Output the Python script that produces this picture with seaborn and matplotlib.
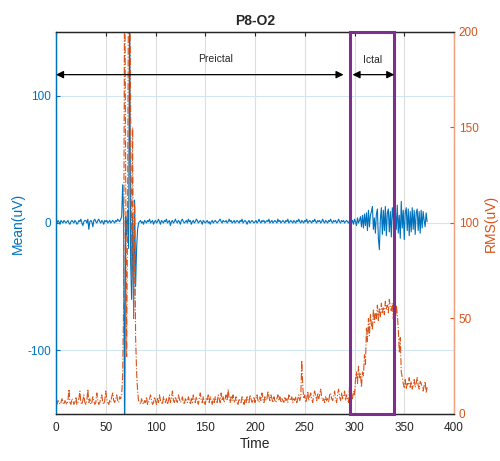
import numpy as np
import pandas as pd
import matplotlib
matplotlib.use('Agg')
import matplotlib.pyplot as plt
import seaborn as sns
from matplotlib.patches import Rectangle

sns.set_style('white')
plt.rcParams['font.family'] = ['Liberation Sans', 'DejaVu Sans']
plt.rcParams['axes.unicode_minus'] = False

BLUE = '#0072BD'
ORANGE = '#D95319'
PURPLE = '#7E2F8E'

# ---------------- data ----------------
time = list(range(374))

mean_uv = [
    1, 0, 2, 1, -1, 2, 1, 0, 2, 1,
    0, 1, 2, 0, -1, 1, 2, 1, 0, 2,
    1, -1, 0, 2, 1, 3, 0, -2, 1, 2,
    2, 0, 3, -5, 1, 2, 1, -3, 2, 3,
    1, 0, 2, 3, 1, 0, 2, 1, -1, 2,
    1, 2, 0, 1, 2, 0, 1, 2, 1, 0,
    2, 1, 3, 2, 1, 3, 5, 30, 2, -180,
    5, -10, 10, -20, 180, -30, -60, 5, -70, 18,
    -50, -20, -5, 0,
    1, 2, 0, 1, -1, 2,
    1, 0, 2, 1, 3, 0, 1, 2, -1, 1,
    2, 0, 1, 3, 1, -1, 2, 1, 0, 2,
    1, 3, 0, 1, 2, -2, 1, 2, 0, 1,
    3, 1, 0, 2, 1, -1, 2, 3, 1, 0,
    1, 2, 0, 3, 1, 2, -1, 1, 2, 0,
    1, 3, 2, 0, 1, 2, 1, -1, 2, 1,
    0, 1, 2, 0, 1, -1, 1, 2, 0, 1,
    2, 1, 0, 1, 2, 3, 1, 0, 2, 1,
    1, 2, 0, 1, 3, 1, 2, 0, 1, 2,
    0, 1, 2, 1, 0, 2, 1, 3, 0, 1,
    2, 1, -1, 1, 2, 0, 1, 2, 1, 0,
    1, 2, 0, 1, 3, 1, 0, 2, 1, 2,
    0, 1, 2, 1, 3, 0, 1, 2, 0, 1,
    2, 1, 0, 3, 1, 2, 0, 1, 2, 1,
    0, 2, 1, 3, 0, 1, 2, 1, 0, 2,
    1, 0, 2, 1, 3, 1, 0, 2, 1, 0,
    2, 1, 3, 0, 1, 2, 1, 0, 2, 1,
    3, 1, 0, 2, 1, 2, 0, 1, 3, 1,
    0, 2, 1, 0, 2, 1, 3, 1, 0, 2,
    1, 2, 0, 1, 3, 1, 0, 2, 1, 2,
    0, 1, 2, 1, 0, 2,
    1, 0, 2, -1, 3, 1, -2, 4, 0, 2,
    5, -3, 6, -4, 7, -2, 8, -6, 10, -3,
    6, 9, 13, -5, 4, -8, 7, 11, -12, -21,
    3, 12, -9, 10, -6, 13, -10, 8, 11, -7,
    9, -11, 12, 4, -9, 10, -5, 14, -8, 6,
    -12, 17, -4, 10, -13, 8, 12, -6, 11, -10,
    9, -7, 12, -5, 10, -9, 8, 11, -6, 9,
    -8, 10, -4, 9, 2, -3, 8, 1,
]

rms_uv = [
    6, 5, 7, 6, 5, 6, 8, 6, 5, 7,
    6, 5, 7, 13, 6, 5, 8, 7, 5, 6,
    9, 5, 6, 8, 12, 6, 5, 7, 10, 6,
    5, 7, 13, 6, 8, 5, 6, 9, 7, 5,
    6, 11, 7, 5, 6, 8, 10, 6, 5, 7,
    12, 8, 6, 5, 7, 6, 9, 11, 7, 6,
    8, 10, 7, 6, 9, 8, 10, 20, 60, 250,
    130, 30, 110, 250, 250, 160, 70, 150, 50, 110,
    40, 22, 12, 7, 6, 5, 8, 6, 5, 7,
    6, 9, 5, 6, 8, 10, 7, 5, 6, 9,
    7, 5, 8, 6, 10, 7, 6, 5, 9, 7,
    6, 8, 5, 7, 10, 6, 8, 12, 7, 6,
    9, 7, 6, 10, 8, 6, 7, 9, 6, 5,
    8, 7, 6, 9, 7, 5, 8, 6, 10, 7,
    6, 9, 7, 5, 8, 11, 7, 6, 9, 6,
    5, 8, 7, 10, 6, 9, 7, 5, 8, 6,
    9, 7, 6, 10, 8, 6, 11, 7, 9, 6,
    8, 10, 7, 13, 8, 6, 9, 7, 10, 6,
    7, 9, 6, 5, 8, 7, 6, 9, 7, 5,
    8, 6, 9, 7, 6, 10, 8, 6, 7, 9,
    6, 8, 10, 7, 6, 9, 7, 11, 8, 6,
    9, 7, 8, 12, 9, 7, 10, 8, 6, 9,
    7, 6, 8, 10, 7, 9, 6, 8, 7, 6,
    9, 7, 8, 6, 10, 8, 7, 9, 6, 8,
    7, 9, 6, 8, 10, 7, 9, 28, 14, 8,
    10, 6, 8, 12, 7, 9, 11, 8, 6, 10,
    12, 9, 7, 11, 8, 10, 13, 9, 7, 8,
    6, 9, 7, 8, 6, 10, 11, 8, 7, 9,
    12, 8, 6, 10, 13, 9, 7, 11, 8, 9,
    12, 7, 10, 8, 6, 14, 9, 11, 8, 12,
    10, 18, 22, 16, 25, 19, 21, 14, 22, 20,
    31, 26, 45, 38, 50, 41, 52, 47, 44, 55,
    48, 53, 50, 57, 49, 55, 51, 58, 53, 56,
    52, 59, 55, 57, 53, 60, 56, 54, 58, 50,
    55, 47, 57, 52, 45, 32, 40, 22, 19, 16,
    14, 18, 13, 16, 15, 19, 14, 17, 13, 15,
    18, 14, 16, 19, 15, 13, 17, 16, 14, 12,
    15, 17, 11, 14,
]

ictal_window = [295, 340]
preictal_arrow = [0, 289]
ictal_arrow = [298, 340]
arrow_y = 116.5   # in Mean(uV) units
x_ticks = [0, 50, 100, 150, 200, 250, 300, 350, 400]
left_ticks = [-100, 0, 100]
right_ticks = [0, 50, 100, 150, 200]

df = pd.DataFrame({'Time': time, 'Mean': mean_uv, 'RMS': rms_uv})

# ---------------- figure ----------------
fig = plt.figure(figsize=(5.0, 4.61), dpi=100)
ax1 = fig.add_axes([0.112, 0.102, 0.796, 0.8286])
ax2 = ax1.twinx()

sns.lineplot(data=df, x='Time', y='Mean', ax=ax1, color=BLUE, lw=0.8,
             errorbar=None, sort=False)
sns.lineplot(data=df, x='Time', y='RMS', ax=ax2, color=ORANGE, lw=0.8,
             linestyle='-.', errorbar=None, sort=False)

ax1.set_xlim(0, 400)
ax1.set_ylim(-150, 150)
ax2.set_ylim(0, 200)
ax1.set_xticks(x_ticks)
ax1.set_yticks(left_ticks)
ax2.set_yticks(right_ticks)

ax1.set_axisbelow(True)
ax1.xaxis.grid(True, color='#dedede', lw=0.8)
ax1.yaxis.grid(True, color='#d3e4f3', lw=0.8)

for ax in (ax1, ax2):
    ax.spines['top'].set_color('#262626')
    ax.spines['bottom'].set_color('#262626')
    ax.spines['left'].set_color(BLUE)
    ax.spines['right'].set_color('#F0A27F')
    for s in ax.spines.values():
        s.set_linewidth(0.9)

ax1.tick_params(axis='x', direction='in', length=3, top=True, labelsize=8.5,
                colors='#262626', pad=6)
ax1.tick_params(axis='y', direction='in', length=3, colors=BLUE, labelsize=8.5)
ax2.tick_params(axis='y', direction='in', length=3, colors=ORANGE, labelsize=8.5)

ax1.set_xlabel('Time', fontsize=10, color='#262626', labelpad=2)
ax1.set_ylabel('Mean(uV)', fontsize=10, color=BLUE, labelpad=2)
ax2.set_ylabel('RMS(uV)', fontsize=10, color=ORANGE, labelpad=4)
ax1.set_title('P8-O2', fontsize=10, fontweight='bold', pad=5)

# ictal window box
ax2.add_patch(Rectangle((ictal_window[0], 0), ictal_window[1] - ictal_window[0], 200,
                        fill=False, ec=PURPLE, lw=2.2, zorder=6, clip_on=False))

def to_right(y):
    return (y + 150) * 200 / 300

ay = to_right(arrow_y)
ap = dict(arrowstyle='<|-|>', color='black', lw=0.9, mutation_scale=11,
          shrinkA=0, shrinkB=0)
ax2.annotate('', xy=(preictal_arrow[0], ay), xytext=(preictal_arrow[1], ay),
             arrowprops=ap, zorder=7)
ax2.annotate('', xy=(ictal_arrow[0], ay), xytext=(ictal_arrow[1], ay),
             arrowprops=ap, zorder=7)
ax2.text(160, to_right(129), 'Preictal', fontsize=7.5, ha='center', va='center', zorder=7)
ax2.text(318, to_right(128), 'Ictal', fontsize=7.5, ha='center', va='center', zorder=7)

fig.savefig('out.png', dpi=100)
